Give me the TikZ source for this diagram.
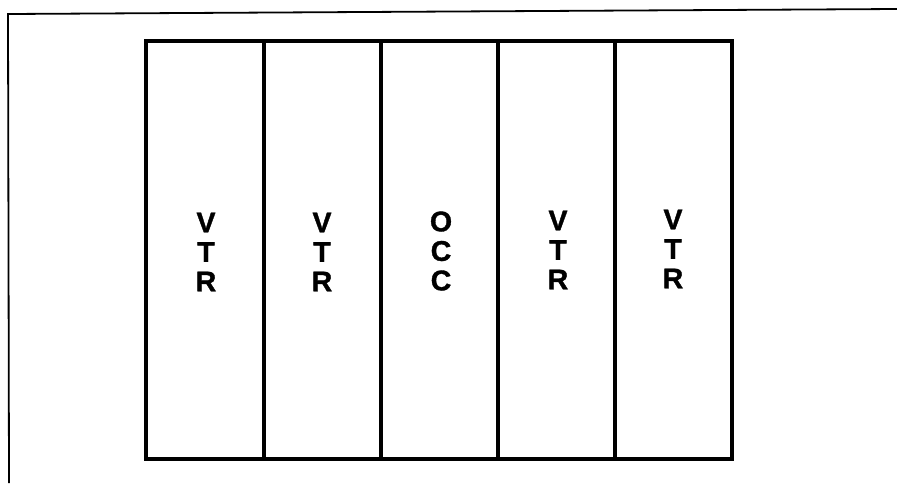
\documentclass[tikz,border=0pt]{standalone}
\usepackage{fontspec}
\setmainfont{Liberation Sans}
\newfontfamily\heavyfont[FakeBold=1.2]{Liberation Sans Bold}
\begin{document}
\begin{tikzpicture}[x=1pt,y=-1pt,
  col/.style={draw=black, line width=3.2pt, minimum height=418pt, inner sep=0pt, outer sep=0pt,
    anchor=north west},
  lbl/.style={font=\heavyfont\fontsize{28.5}{29.5}\selectfont, align=center},
  frame/.style={line width=1.8pt}]
\useasboundingbox (0,0) rectangle (897,483);
% outer frame
\coordinate (fb) at (9,483);
\coordinate (ft) at (8,14);
\coordinate (fr) at (897,9);
\draw[frame] (fb) -- (ft) -- (fr);
% columns
\node[col, minimum width=118pt] (c1) at (146,41) {};
\node[col, minimum width=117pt] (c2) at (264,41) {};
\node[col, minimum width=117pt] (c3) at (381,41) {};
\node[col, minimum width=117pt] (c4) at (498,41) {};
\node[col, minimum width=117pt] (c5) at (615,41) {};
% labels
\node[lbl] (t1) at (206,252) {V\\T\\R};
\node[lbl] (t2) at (322,252) {V\\T\\R};
\node[lbl] (t3) at (441,251) {O\\C\\C};
\node[lbl] (t4) at (558,250) {V\\T\\R};
\node[lbl] (t5) at (673,249) {V\\T\\R};
\end{tikzpicture}
\end{document}
